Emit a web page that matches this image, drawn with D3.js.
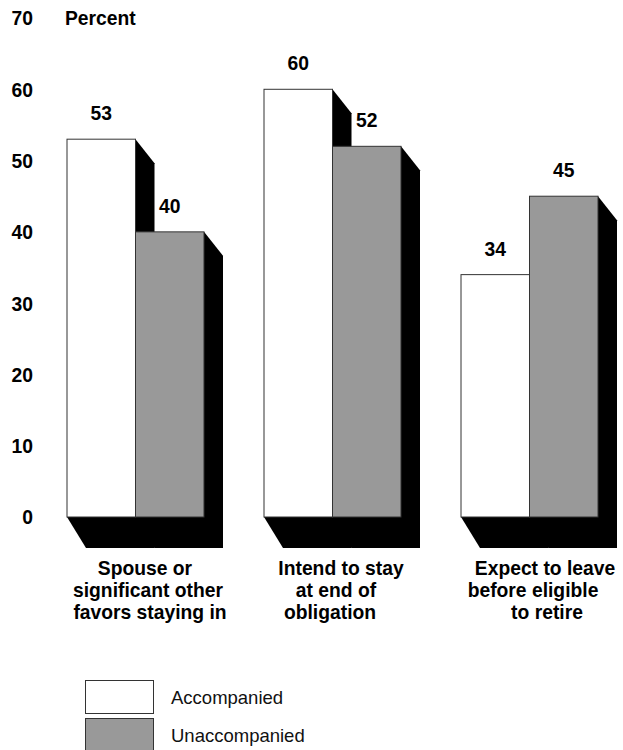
<!DOCTYPE html>
<html>
<head>
<meta charset="utf-8">
<script src="https://cdn.jsdelivr.net/npm/d3@7"></script>
<style>
  html, body { margin: 0; padding: 0; background: #fff; }
  svg { display: block; font-family: "Liberation Sans", Arial, Helvetica, sans-serif; }
</style>
</head>
<body>
<svg id="chart" width="623" height="750"></svg>
<script>
// ---- data ----
const categories = [
  ["Spouse or", "significant other", "favors staying in"],
  ["Intend to stay", "at end of", "obligation"],
  ["Expect to leave", "before eligible", "to retire"]
];
const series = ["Accompanied", "Unaccompanied"];
const accompanied = [53, 60, 34];
const unaccompanied = [40, 52, 45];
const yTicks = [0, 10, 20, 30, 40, 50, 60, 70];
const yTitle = "Percent";

// ---- layout / style ----
const colors = { Accompanied: "#ffffff", Unaccompanied: "#999999" };
const depthX = 19, depthTop = 24, depthFloor = 31;
const lineNudge = [[0, 3, 5], [-1, -6, -12], [6, -6, 8]];
const boldSize = 19.3;

const svg = d3.select("#chart");
const y = d3.scaleLinear().domain([0, 70]).range([517, 18]);
const x0 = d3.scaleBand().domain(d3.range(categories.length)).range([67, 598])
  .paddingInner(0.3046).paddingOuter(0);
const x1 = d3.scaleBand().domain(series).range([0, x0.bandwidth()]).padding(0);

const rows = [];
categories.forEach((c, i) => {
  rows.push({ g: i, s: "Accompanied", v: accompanied[i] });
  rows.push({ g: i, s: "Unaccompanied", v: unaccompanied[i] });
});

// y axis
const yAxis = d3.axisLeft(y).tickValues(yTicks).tickSize(0).tickPadding(0);
const ag = svg.append("g").attr("transform", "translate(33,0)").call(yAxis);
ag.select(".domain").remove();
ag.selectAll("text").attr("font-size", boldSize).attr("font-weight", "bold")
  .attr("fill", "#000").attr("font-family", "'Liberation Sans', Arial, sans-serif")
  .attr("dy", "0.36em");

svg.append("text").attr("x", 65).attr("y", 25).attr("font-size", boldSize)
  .attr("font-weight", "bold").text(yTitle);

// shadows
const base = y(0);
svg.append("g").selectAll("path").data(rows).join("path")
  .attr("d", d => {
    const xa = x0(d.g) + x1(d.s), xb = xa + x1.bandwidth(), t = y(d.v);
    return `M${xa},${base} L${xa + depthX},${base + depthFloor} L${xb + depthX},${base + depthFloor} L${xb + depthX},${t + depthTop} L${xb},${t} Z`;
  })
  .attr("fill", "#000");

// bars
svg.append("g").selectAll("rect").data(rows).join("rect")
  .attr("x", d => x0(d.g) + x1(d.s))
  .attr("y", d => y(d.v))
  .attr("width", x1.bandwidth())
  .attr("height", d => base - y(d.v))
  .attr("fill", d => colors[d.s])
  .attr("stroke", "#333").attr("stroke-width", 1);

// value labels
svg.append("g").selectAll("text").data(rows).join("text")
  .attr("x", d => x0(d.g) + x1(d.s) + x1.bandwidth() / 2)
  .attr("y", d => y(d.v) - 19)
  .attr("text-anchor", "middle").attr("font-size", boldSize).attr("font-weight", "bold")
  .text(d => d.v);

// category labels
categories.forEach((lines, i) => {
  const cx = x0(i) + (x0.bandwidth() + depthX) / 2;
  lines.forEach((ln, j) => {
    svg.append("text")
      .attr("x", cx + lineNudge[i][j])
      .attr("y", 575 + j * 22)
      .attr("text-anchor", "middle").attr("font-size", boldSize).attr("font-weight", "bold")
      .text(ln);
  });
});

// legend
const lg = svg.append("g");
series.forEach((s, i) => {
  lg.append("rect").attr("x", 85.5).attr("y", 680.5 + i * 38)
    .attr("width", 68).attr("height", 33)
    .attr("fill", colors[s]).attr("stroke", "#333").attr("stroke-width", 1);
  lg.append("text").attr("x", 171).attr("y", 704 + i * 38)
    .attr("font-size", 18.5).attr("fill", "#111").text(s);
});
</script>
</body>
</html>
